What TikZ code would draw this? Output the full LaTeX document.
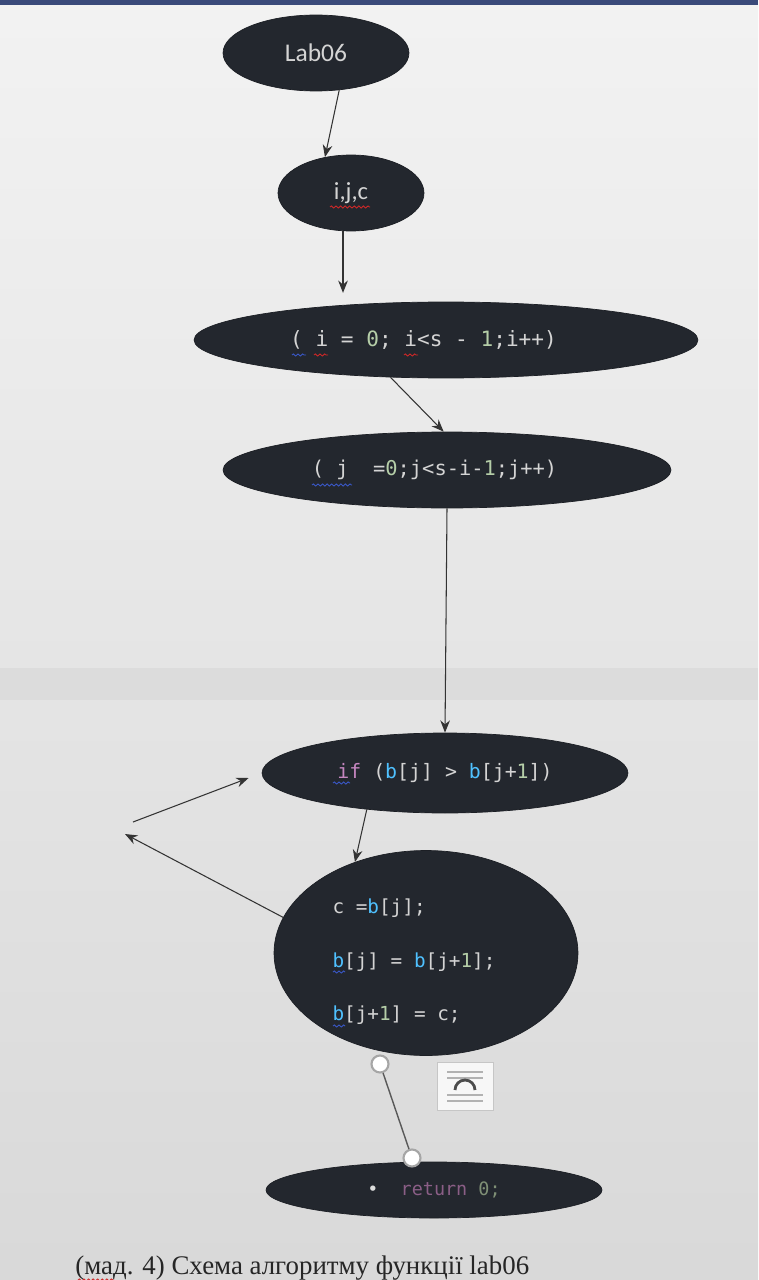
\documentclass[tikz,border=0pt]{standalone}
\usepackage{fontspec}
\setmainfont{Liberation Serif}
\setmonofont{DejaVu Sans Mono}
\newfontfamily\labfont{Carlito}
\usepackage{tikz}
\usetikzlibrary{arrows.meta, shapes.geometric, decorations.pathmorphing}
\definecolor{blockfill}{HTML}{23272E}
\definecolor{codetext}{HTML}{D4D4D4}
\definecolor{numgreen}{HTML}{B5CEA8}
\definecolor{kwpink}{HTML}{C586C0}
\definecolor{varblue}{HTML}{4FC1FF}
\definecolor{spellred}{HTML}{D02828}
\definecolor{spellblue}{HTML}{3A58C8}
\definecolor{topband}{HTML}{3A4A7A}
\tikzset{
>={Stealth[length=7pt, width=5.5pt]},
  block/.style={
    ellipse,
    fill=blockfill,
    draw=blockfill!80!black,
    inner sep=0pt,
    text=codetext,
    font=\ttfamily\fontsize{12}{14}\selectfont},
  line/.style={draw, ->, line width=0.6pt, black!80},
  handle/.style={circle, draw=gray!70, fill=white, line width=1.2pt, minimum size=0.34cm, inner sep=0pt},
  squiggle/.style={draw=#1, line width=0.5pt, decorate,
    decoration={snake, amplitude=0.6pt, segment length=2.6pt}},
}

\begin{document}
\begin{tikzpicture}[x=0.02cm, y=-0.02cm]
     \shade[top color=gray!10, bottom color=gray!30] (0,0) rectangle (758,1280);
     \fill[topband] (0,0) rectangle (758,5);
     \fill[gray!30, opacity=.7] (0,668) rectangle (758,700);
     \useasboundingbox (0,0) rectangle (758,1280);

     \node[block, minimum width=3.72cm, minimum height=1.52cm, font=\labfont\fontsize{14.5}{16}\selectfont] (Lab06) at (316,53) {Lab06};
     \node[block, minimum width=2.92cm, minimum height=1.52cm, font=\labfont\fontsize{14}{16}\selectfont] (IJC) at (351,193) {i,j,c};
     \node[block, minimum width=10.08cm, minimum height=1.52cm] (For1) at (446,340)
          {(~i = \textcolor{numgreen}{0}; i<s - \textcolor{numgreen}{1};i++)\hspace*{0.9cm}};
     \node[block, minimum width=8.96cm, minimum height=1.52cm, font=\ttfamily\fontsize{11.6}{14}\selectfont] (For2) at (447,470)
          {(~j~~=\textcolor{numgreen}{0};j<s-i-\textcolor{numgreen}{1};j++)\hspace*{0.5cm}};
     \node[block, minimum width=7.32cm, minimum height=1.6cm, font=\ttfamily\fontsize{11.3}{14}\selectfont] (If) at (445,773)
          {\textcolor{kwpink}{if} (\textcolor{varblue}{b}[j] > \textcolor{varblue}{b}[j+\textcolor{numgreen}{1}])};
     \node[block, minimum width=6.08cm, minimum height=4.1cm,
           label={[align=left, text=codetext, font=\ttfamily\fontsize{11}{13}\selectfont, xshift=-0.24cm, yshift=-0.18cm]center:
           c =\textcolor{varblue}{b}[j];\\[17.5pt]
           \textcolor{varblue}{b}[j] = \textcolor{varblue}{b}[j+\textcolor{numgreen}{1}];\\[17.5pt]
           \textcolor{varblue}{b}[j+\textcolor{numgreen}{1}] = c;}] (Swap) at (426,953) {};
     \node[block, minimum width=6.72cm, minimum height=1.12cm, font=\ttfamily\fontsize{10.5}{13}\selectfont] (Return) at (434,1190)
          {\textcolor{codetext!80}{\textbullet}~~\textcolor{kwpink!70!black}{return} \textcolor{numgreen!70!black}{0;}};

     \coordinate (LoopLow)  at (125,834);
     \coordinate (LoopHigh) at (133,822);

     \draw[line] (Lab06.-58) -- (IJC.126);
     \draw[line, shorten >=5pt] ([xshift=-0.16cm]IJC.south) -- ([xshift=-0.16cm]IJC.south |- For1.north);
     \draw[line] (For1.214) -- (For2.95);
     \draw[line] (For2.south) -- (If.north);
     \draw[line] (If.205) -- (Swap.128);
     \draw[line] (Swap.166) -- (LoopLow);
     \draw[line, shorten >=8pt] (LoopHigh) -- (If.west);

     % selected connector between Swap and Return
     \node[handle] (HandleTop) at (380,1064) {};
     \node[handle] (HandleBot) at (412,1158) {};
     \draw[gray!70!black, line width=0.8pt] (HandleTop) -- (HandleBot);

     % layout options icon
     \node[draw=gray!45, fill=gray!6, minimum width=1.12cm, minimum height=0.96cm] (LayoutIcon) at (465,1086) {};
     \foreach \yy in {-14,-8,9,15}
       \draw[gray!60, line width=0.6pt] ([shift={(-18,\yy)}]LayoutIcon.center) -- ++(36,0);
     \draw[black!70, line width=1.6pt] ([shift={(-10,4)}]LayoutIcon.center) arc[start angle=180, end angle=0, radius=0.2cm];

     % spelling marks
     \draw[squiggle=spellblue] (292,355) -- (306,355);
     \draw[squiggle=spellred]  (314,355) -- (328,355);
     \draw[squiggle=spellred]  (404,355) -- (418,355);
     \draw[squiggle=spellblue] (312,485) -- (352,485);
     \draw[squiggle=spellred]  (330,207) -- (370,207);
     \draw[squiggle=spellblue] (333,783) -- (350,783);
     \draw[squiggle=spellblue] (333,972) -- (345,972);
     \draw[squiggle=spellblue] (333,1026) -- (345,1026);

     \node[font=\fontsize{15.3}{17}\selectfont, text=black!85, anchor=west, inner sep=0pt] (Caption) at (75,1268)
          {(мад. 4) Схема алгоритму функції lab06};
     \draw[squiggle=spellred] (78,1280) -- (114,1280);
\end{tikzpicture}
\end{document}
